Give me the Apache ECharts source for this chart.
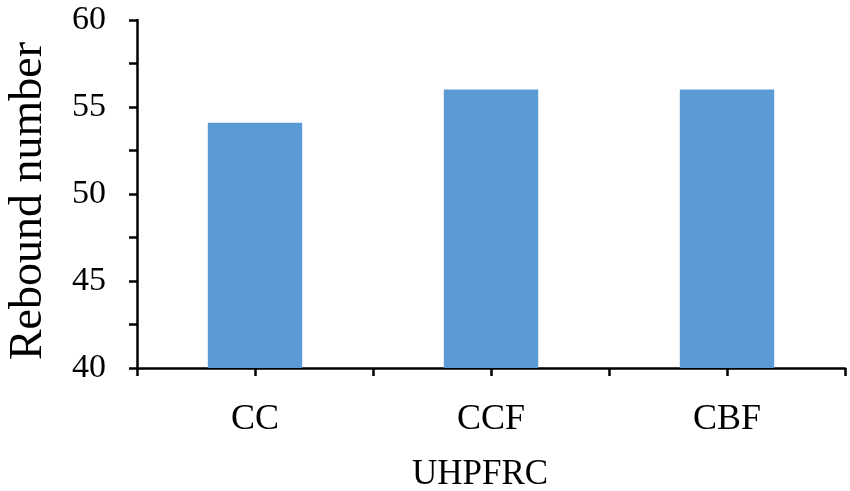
<!DOCTYPE html>
<html>
<head>
<meta charset="utf-8">
<script src="https://cdn.jsdelivr.net/npm/echarts@6/dist/echarts.min.js"></script>
<style>html,body{margin:0;padding:0;background:#fff;}#c{width:850px;height:491px;}</style>
</head>
<body>
<div id="c"></div>
<script>
const categories = ['CC', 'CCF', 'CBF'];
const reboundValues = [54.1, 56, 56];
const yTickLabels = [40, 45, 50, 55, 60];

const chart = echarts.init(document.getElementById('c'), null, {renderer: 'canvas'});
const font = '"Liberation Serif", "Times New Roman", serif';
chart.setOption({
  animation: false,
  backgroundColor: '#ffffff',
  grid: {left: 137, right: 5, top: 20, bottom: 123, containLabel: false, outerBoundsMode: 'none'},
  xAxis: [{
    type: 'category',
    data: categories,
    position: 'bottom',
    name: 'UHPFRC',
    nameLocation: 'middle',
    nameGap: 89,
    nameTextStyle: {fontFamily: font, fontSize: 35, color: '#000', padding: [0, 22, 0, 0]},
    axisLine: {show: true, lineStyle: {color: '#000', width: 2.5}},
    axisTick: {show: true, length: 8, lineStyle: {color: '#000', width: 2.5}},
    axisLabel: {fontFamily: font, fontSize: 36, color: '#000', margin: 34},
    splitLine: {show: false}
  }, {
    type: 'category',
    data: categories,
    position: 'bottom',
    axisLine: {show: false},
    axisTick: {show: true, alignWithLabel: true, length: 8, lineStyle: {color: '#000', width: 2.5}},
    axisLabel: {show: false},
    splitLine: {show: false}
  }],
  yAxis: {
    type: 'value',
    min: yTickLabels[0],
    max: yTickLabels[yTickLabels.length - 1],
    interval: 2.5,
    name: 'Rebound number',
    nameLocation: 'middle',
    nameGap: 85,
    nameTextStyle: {fontFamily: font, fontSize: 46, color: '#000', padding: [0, 14, 0, 0]},
    axisLine: {show: true, lineStyle: {color: '#000', width: 2.5}},
    axisTick: {show: true, length: 8, lineStyle: {color: '#000', width: 2.5}},
    axisLabel: {
      fontFamily: font, fontSize: 34, color: '#000', margin: 31,
      formatter: function (v) { return yTickLabels.indexOf(v) >= 0 ? String(v) : ''; }
    },
    splitLine: {show: false}
  },
  series: [{
    type: 'bar',
    xAxisIndex: 0,
    data: reboundValues,
    barWidth: '40%',
    itemStyle: {color: '#5B9BD5'}
  }]
});
</script>
</body>
</html>
